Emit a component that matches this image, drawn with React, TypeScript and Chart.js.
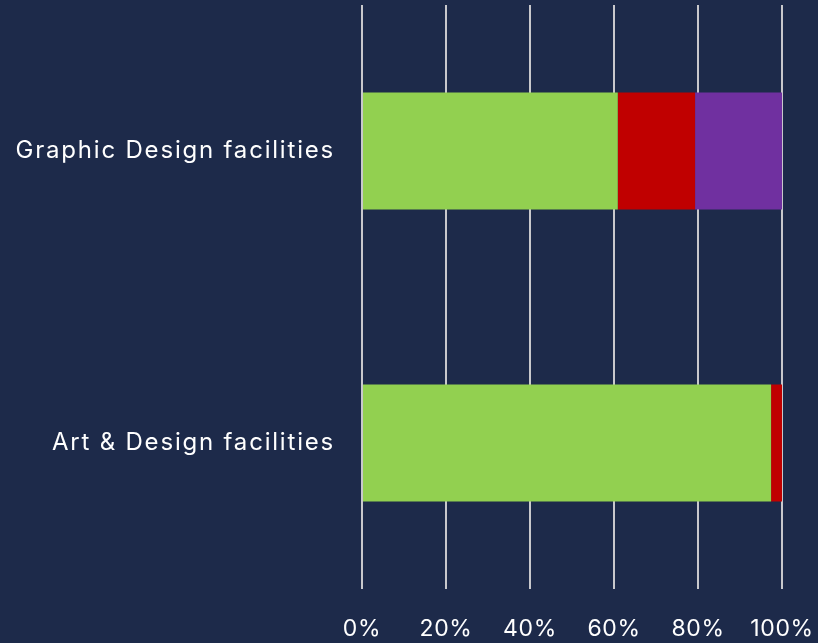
import React, { useEffect, useRef } from "react";
import { Chart, registerables } from "chart.js";

Chart.register(...registerables);

const categories = ["Graphic Design facilities", "Art & Design facilities"];
const greenValues = [60.9, 97.4];
const redValues = [18.4, 2.6];
const purpleValues = [20.7, 0];
const tickLabels = ["0%", "20%", "40%", "60%", "80%", "100%"];

const BG = "#1d2a4a";

const spacingPlugin = {
  id: "labelSpacing",
  beforeDraw(chart: any) {
    const setups: [string, string][] = [["x", "0.6px"], ["y", "1.8px"]];
    for (const [id, sp] of setups) {
      const scale = chart.scales[id];
      if (!scale || scale.__spaced) continue;
      const orig = scale.drawLabels;
      scale.drawLabels = function (area: any) {
        const ctx = this.ctx;
        ctx.save();
        (ctx as any).letterSpacing = sp;
        orig.call(this, area);
        ctx.restore();
      };
      scale.__spaced = true;
    }
  },
};

export default function App() {
  const ref = useRef<HTMLCanvasElement | null>(null);
  useEffect(() => {
    document.body.style.margin = "0";
    document.body.style.background = BG;
    const ctx = ref.current!;
    const chart = new Chart(ctx, {
      type: "bar",
      data: {
        labels: categories,
        datasets: [
          { label: "Green", data: greenValues, backgroundColor: "#92d050", barPercentage: 0.5, categoryPercentage: 0.8 },
          { label: "Red", data: redValues, backgroundColor: "#c00000", barPercentage: 0.5, categoryPercentage: 0.8 },
          { label: "Purple", data: purpleValues, backgroundColor: "#7030a0", barPercentage: 0.5, categoryPercentage: 0.8 },
        ],
      },
      plugins: [spacingPlugin],
      options: {
        indexAxis: "y",
        animation: false,
        responsive: false,
        maintainAspectRatio: false,
        layout: { padding: { top: 5, right: 36, left: 0, bottom: 0 } },
        plugins: { legend: { display: false }, tooltip: { enabled: false } },
        scales: {
          x: {
            stacked: true,
            min: 0,
            max: 100,
            border: { display: false },
            grid: { color: "#c8c8cc", lineWidth: 2, drawTicks: false },
            ticks: {
              stepSize: 20,
              padding: 26,
              color: "#ffffff",
              font: { family: "Inter", size: 23, weight: "normal" },
              callback: (_v: any, i: number) => tickLabels[i],
            },
            afterFit: (s: any) => {
              s.height = 54;
              s.paddingLeft = 0;
              s.paddingRight = 0;
            },
          },
          y: {
            stacked: true,
            border: { display: false },
            grid: { display: false, drawTicks: false },
            ticks: { padding: 27, color: "#ffffff", font: { family: "Inter", size: 24, weight: "normal" } },
            afterFit: (s: any) => {
              s.width = 362;
              s.paddingTop = 0;
              s.paddingBottom = 0;
            },
          },
        },
      },
    });
    return () => chart.destroy();
  }, []);
  return (
    <div style={{ width: 818, height: 643, background: BG }}>
      <canvas ref={ref} width={818} height={643} style={{ display: "block" }} />
    </div>
  );
}
